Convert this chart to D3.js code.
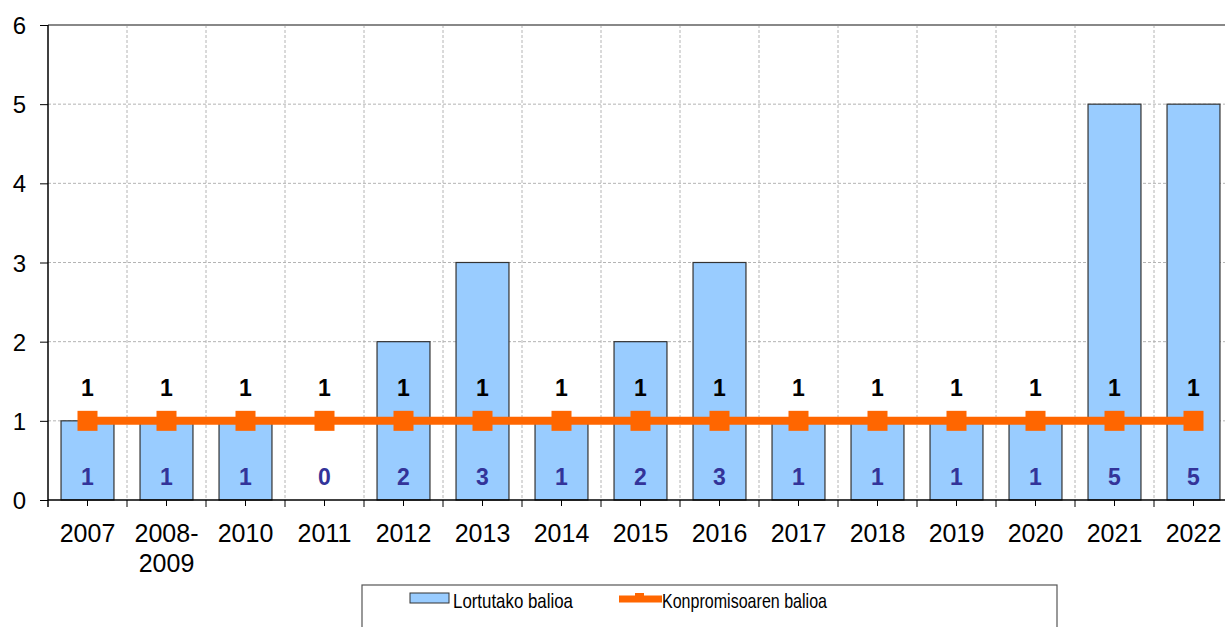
<!DOCTYPE html>
<html lang="en">
<head>
<meta charset="UTF-8">
<title>Lortutako balioa</title>
<script src="https://d3js.org/d3.v7.min.js"></script>
<style>
  body { margin: 0; background: #fff; font-family: "Liberation Sans", Arial, sans-serif; }
  svg { display: block; }
</style>
</head>
<body>
<svg width="1225" height="627"></svg>
<script>
const categories = ["2007", "2008-\n2009", "2010", "2011", "2012", "2013", "2014", "2015", "2016", "2017", "2018", "2019", "2020", "2021", "2022"];
const achieved = [1, 1, 1, 0, 2, 3, 1, 2, 3, 1, 1, 1, 1, 5, 5];
const commitment = [1, 1, 1, 1, 1, 1, 1, 1, 1, 1, 1, 1, 1, 1, 1];
const yTicks = [0, 1, 2, 3, 4, 5, 6];

const svg = d3.select("svg");
const plotLeft = 48, plotRight = 1233, plotTop = 25, plotBottom = 500;

const x = d3.scaleBand().domain(categories).range([plotLeft, plotRight]).paddingInner(0.33).paddingOuter(0.165);
const xb = d3.scaleBand().domain(categories).range([plotLeft, plotRight]);
const y = d3.scaleLinear().domain([0, 6]).range([plotBottom, plotTop]);

// grid
const grid = svg.append("g");
grid.selectAll("line.h").data(yTicks.slice(1, -1)).join("line")
  .attr("x1", plotLeft).attr("x2", plotRight)
  .attr("y1", d => y(d)).attr("y2", d => y(d))
  .attr("stroke", "#b4b4b4").attr("stroke-dasharray", "3,2");
grid.selectAll("line.v").data(categories.slice(1)).join("line")
  .attr("x1", d => xb(d)).attr("x2", d => xb(d))
  .attr("y1", plotTop).attr("y2", plotBottom)
  .attr("stroke", "#b4b4b4").attr("stroke-dasharray", "3,2");
svg.append("line").attr("x1", plotLeft).attr("x2", plotRight).attr("y1", plotTop).attr("y2", plotTop)
  .attr("stroke", "#888").attr("stroke-width", 2);

// bars
svg.append("g").selectAll("rect").data(achieved).join("rect")
  .attr("x", (d, i) => x(categories[i]))
  .attr("width", x.bandwidth())
  .attr("y", d => y(d))
  .attr("height", d => y(0) - y(d))
  .attr("fill", "#99ccff")
  .attr("stroke", "#333")
  .attr("stroke-width", 1.2);

// axes
const yAxis = svg.append("g").attr("transform", `translate(${plotLeft},0)`)
  .call(d3.axisLeft(y).tickValues(yTicks).tickSize(8).tickFormat(d3.format("d")));
yAxis.select(".domain").remove();
yAxis.selectAll(".tick line").attr("stroke", "#000");
yAxis.selectAll(".tick text").attr("x", -22).attr("dy", "0.36em")
  .attr("font-size", 24).attr("font-family", "Liberation Sans, Arial, sans-serif").attr("fill", "#000");
svg.append("line").attr("x1", plotLeft).attr("x2", plotLeft).attr("y1", plotTop).attr("y2", plotBottom + 7)
  .attr("stroke", "#000").attr("stroke-width", 1.5);
svg.append("line").attr("x1", plotLeft).attr("x2", plotRight).attr("y1", plotBottom).attr("y2", plotBottom)
  .attr("stroke", "#000").attr("stroke-width", 1.5);

// x ticks
svg.append("g").selectAll("line").data(categories.slice(1)).join("line")
  .attr("x1", d => xb(d)).attr("x2", d => xb(d))
  .attr("y1", plotBottom).attr("y2", plotBottom + 7).attr("stroke", "#000");
svg.append("g").selectAll("line").data(categories).join("line")
  .attr("x1", d => xb(d) + xb.bandwidth() / 2).attr("x2", d => xb(d) + xb.bandwidth() / 2)
  .attr("y1", plotBottom).attr("y2", plotBottom + 6).attr("stroke", "#000");

// x labels
const xl = svg.append("g").selectAll("text").data(categories).join("text")
  .attr("x", d => xb(d) + xb.bandwidth() / 2)
  .attr("y", 542)
  .attr("text-anchor", "middle")
  .attr("font-size", 25)
  .attr("fill", "#000");
xl.each(function(d) {
  const parts = d.split("\n");
  d3.select(this).selectAll("tspan").data(parts).join("tspan")
    .attr("x", xb(d) + xb.bandwidth() / 2)
    .attr("dy", (p, i) => i === 0 ? 0 : 30)
    .text(p => p);
});

// commitment line
const cx = i => xb(categories[i]) + xb.bandwidth() / 2;
svg.append("path")
  .datum(commitment)
  .attr("d", d3.line().x((d, i) => cx(i)).y(d => y(d)))
  .attr("fill", "none").attr("stroke", "#ff6600").attr("stroke-width", 8);
svg.append("g").selectAll("rect").data(commitment).join("rect")
  .attr("x", (d, i) => cx(i) - 10).attr("y", d => y(d) - 10)
  .attr("width", 20).attr("height", 20).attr("fill", "#ff6600");

// value labels
svg.append("g").selectAll("text").data(commitment).join("text")
  .attr("x", (d, i) => cx(i)).attr("y", d => y(d) - 25)
  .attr("text-anchor", "middle").attr("font-size", 23).attr("font-weight", "bold")
  .attr("fill", "#000").text(d => d);
svg.append("g").selectAll("text").data(achieved).join("text")
  .attr("x", (d, i) => cx(i)).attr("y", 485)
  .attr("text-anchor", "middle").attr("font-size", 23).attr("font-weight", "bold")
  .attr("fill", "#333399").text(d => d);

// legend
const lg = svg.append("g");
lg.append("rect").attr("x", 362).attr("y", 585).attr("width", 695).attr("height", 60)
  .attr("fill", "#fff").attr("stroke", "#555").attr("stroke-width", 1.2);
lg.append("rect").attr("x", 410).attr("y", 593).attr("width", 39).attr("height", 10)
  .attr("fill", "#99ccff").attr("stroke", "#333");
lg.append("text").attr("x", 453).attr("y", 608).attr("font-size", 21)
  .attr("textLength", 120).attr("lengthAdjust", "spacingAndGlyphs").text("Lortutako balioa");
lg.append("line").attr("x1", 619).attr("x2", 662).attr("y1", 599).attr("y2", 599)
  .attr("stroke", "#ff6600").attr("stroke-width", 7);
lg.append("rect").attr("x", 635).attr("y", 593).attr("width", 9).attr("height", 8).attr("fill", "#ff6600");
lg.append("text").attr("x", 662).attr("y", 608).attr("font-size", 21)
  .attr("textLength", 165).attr("lengthAdjust", "spacingAndGlyphs").text("Konpromisoaren balioa");
</script>
</body>
</html>
